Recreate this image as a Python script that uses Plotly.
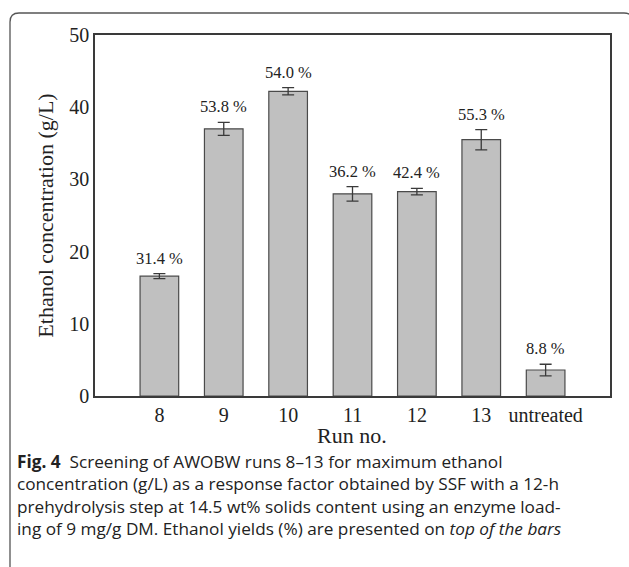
import plotly.graph_objects as go

runs = ["8", "9", "10", "11", "12", "13", "untreated"]
ethanol = [16.6, 37.0, 42.2, 28.0, 28.3, 35.5, 3.6]
errors = [0.35, 0.9, 0.5, 1.0, 0.45, 1.4, 0.8]
yields = ["31.4 %", "53.8 %", "54.0 %", "36.2 %", "42.4 %", "55.3 %", "8.8 %"]
yticks = [0, 10, 20, 30, 40, 50]

W, H = 629, 567
L, R, T, B = 95, 610, 35, 396

def px(x):
    return (x - L) / (R - L)

def py(y):
    return (B - y) / (B - T)

serif = "Liberation Serif"
axcol = "#3a3a3a"

fig = go.Figure()
fig.add_trace(go.Bar(
    x=list(range(len(runs))), y=ethanol, width=0.6,
    marker=dict(color="#c0c0c0", line=dict(color="#4a4a4a", width=1.2)),
    error_y=dict(type="data", array=errors, visible=True, color="#3a3a3a",
                 thickness=1.3, width=6),
    showlegend=False,
))

for i, (v, e, t) in enumerate(zip(ethanol, errors, yields)):
    fig.add_annotation(x=i, y=v + e, text=t, showarrow=False, yanchor="bottom",
                       yshift=4, font=dict(family=serif, size=16.5, color="#222"))

# caption
cap = [
    "<b>Fig. 4</b>  Screening of AWOBW runs 8–13 for maximum ethanol",
    "concentration (g/L) as a response factor obtained by SSF with a 12-h",
    "prehydrolysis step at 14.5 wt% solids content using an enzyme load-",
    "ing of 9 mg/g DM. Ethanol yields (%) are presented on <i>top of the bars</i>",
]
for k, line in enumerate(cap):
    fig.add_annotation(xref="paper", yref="paper", x=px(15), y=py(461 + k * 22.5),
                       xanchor="left", yanchor="middle", showarrow=False, text=line,
                       font=dict(family="Open Sans", size=17.2, color="#222"))

fig.add_annotation(xref="paper", yref="paper", x=px(352), y=py(435), text="Run no.",
                   showarrow=False, xanchor="center", yanchor="middle",
                   font=dict(family=serif, size=22, color="#222"))

# outer rounded frame
r = 9
path = (f"M {px(10)},{py(620)} L {px(10)},{py(13 + r)} "
        f"Q {px(10)},{py(13)} {px(10 + r)},{py(13)} L {px(624)},{py(13)} "
        f"Q {px(633)},{py(13)} {px(633)},{py(13 + r)}")
fig.add_shape(type="path", xref="paper", yref="paper", path=path,
              line=dict(color="#555", width=1.3))

fig.update_layout(
    width=W, height=H,
    margin=dict(l=L, r=W - R, t=T, b=H - B),
    paper_bgcolor="white", plot_bgcolor="white",
    xaxis=dict(range=[-1, 7], tickmode="array", tickvals=list(range(len(runs))),
               ticktext=runs, showgrid=False, zeroline=False,
               showline=True, linecolor=axcol, linewidth=1.5, mirror=True,
               ticks="", tickfont=dict(family=serif, size=20, color="#222")),
    yaxis=dict(range=[0, 50], tickvals=yticks, showgrid=False, zeroline=False,
               showline=True, linecolor=axcol, linewidth=1.5, mirror=True,
               ticks="", tickfont=dict(family=serif, size=20, color="#222"),
               title=dict(text="Ethanol concentration (g/L)", standoff=10,
                          font=dict(family=serif, size=22, color="#222"))),
    bargap=0.4,
)

fig.write_html("out.html")
